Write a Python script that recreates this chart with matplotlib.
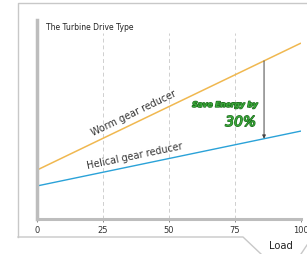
import matplotlib
matplotlib.use("Agg")
import matplotlib.pyplot as plt
import matplotlib.patheffects as pe
from matplotlib.lines import Line2D

# chart data
load = [0, 100]
worm = [24.6, 88.4]
helical = [16.6, 44.2]
xticks = [0, 25, 50, 75, 100]
arrow_at = 86

W, H = 307, 254


def fx(px):
    return px / W


def fy(py):
    return 1 - py / H


fig = plt.figure(figsize=(W / 100, H / 100), dpi=100)
fig.patch.set_facecolor("white")

# outer frame with the "Load" tab
frame = [
    ([18, 18, 307], [237, 3, 3]),
    ([18, 243, 261], [237, 237, 254]),
    ([301, 307], [254, 245]),
]
for xs, ys in frame:
    fig.add_artist(Line2D([fx(x) for x in xs], [fy(y) for y in ys],
                          color="#c8c8c8", lw=1.0))

ax = fig.add_axes([fx(37), fy(219), fx(301) - fx(37), fy(20) - fy(219)])
ax.set_xlim(0, 100)
ax.set_ylim(0, 100)

ax.vlines(xticks[1:], 0, 93.5, colors="#cfcfcf", linestyles=(0, (4, 3)), lw=0.7)

ax.plot(load, worm, color="#f0b850", lw=1.1, solid_capstyle="butt")
ax.plot(load, helical, color="#2aa2d8", lw=1.0, solid_capstyle="butt")

for s in ["top", "right"]:
    ax.spines[s].set_visible(False)
ax.spines["left"].set_color("#bdbdbd")
ax.spines["left"].set_linewidth(2.5)
ax.spines["bottom"].set_color("#bdbdbd")
ax.spines["bottom"].set_linewidth(2.2)
ax.set_yticks([])
ax.set_xticks(xticks)
ax.set_xticklabels([str(t) for t in xticks])
ax.tick_params(axis="x", length=2, width=0.6, color="#777777",
               labelsize=6, labelcolor="#333333", pad=3)

ax.text(3.5, 96, "The Turbine Drive Type", fontsize=5.5, color="#222222",
        va="center", ha="left")

# line labels, rotated along the lines
ax.text(37.5, 24.6 + 0.638 * 37.5 + 2.2, "Worm gear reducer", fontsize=6.9,
        color="#333333", ha="center", va="bottom", rotation=25.7,
        rotation_mode="anchor")
ax.text(37.5, 16.6 + 0.276 * 37.5 + 2.2, "Helical gear reducer", fontsize=6.9,
        color="#333333", ha="center", va="bottom", rotation=11.8,
        rotation_mode="anchor")

# savings arrow
ax.annotate("", xy=(arrow_at, 16.6 + 0.276 * arrow_at),
            xytext=(arrow_at, 24.6 + 0.638 * arrow_at),
            arrowprops=dict(arrowstyle="-|>", color="#444444", lw=0.7,
                            mutation_scale=5, shrinkA=0, shrinkB=0))

green_fx = [pe.withStroke(linewidth=1.0, foreground="#1f6e1f")]
ax.text(71.2, 57.3, "Save Energy by", fontsize=5.4, color="#3aaa3a",
        fontweight="bold", fontstyle="italic", ha="center", va="center",
        path_effects=green_fx)
ax.text(83, 48.7, "30%", fontsize=10, color="#3aaa3a", fontstyle="italic",
        ha="right", va="center", path_effects=green_fx)

fig.text(fx(281), fy(246), "Load", fontsize=7.2, color="#222222",
         ha="center", va="center")

fig.savefig("out.png", dpi=100)
